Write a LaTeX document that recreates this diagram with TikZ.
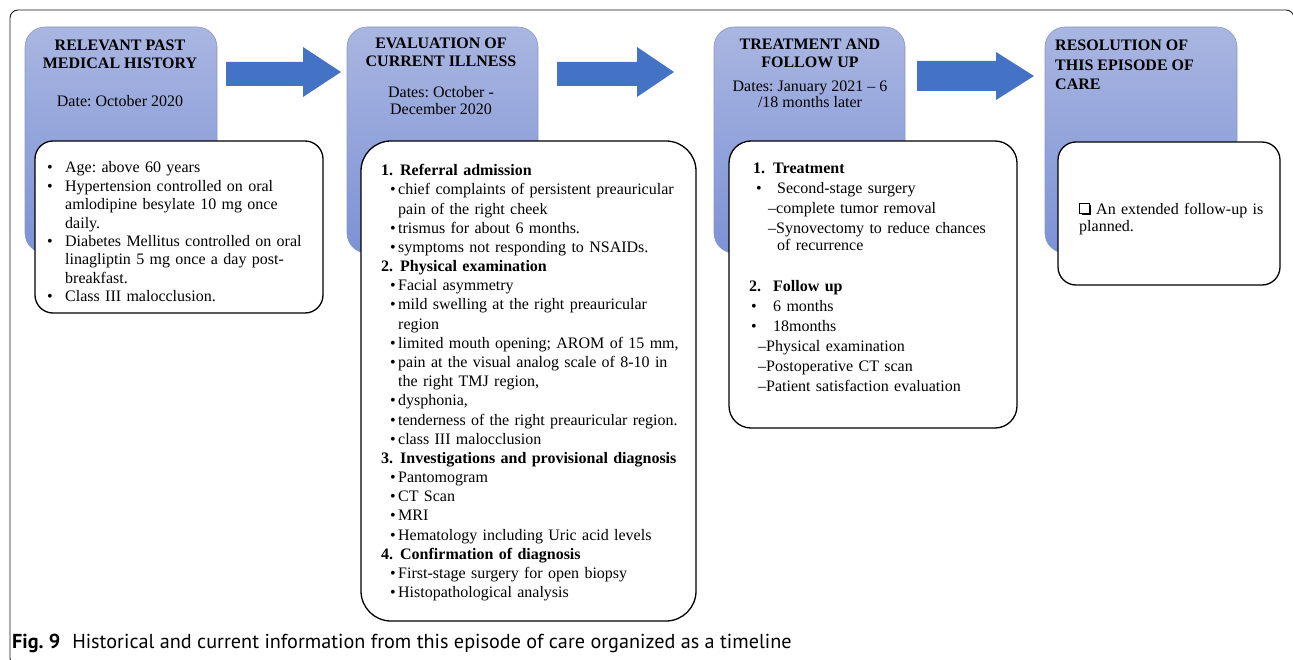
\documentclass[tikz,border=0pt]{standalone}
\usepackage{fontspec}
\setmainfont{Liberation Serif}
\newfontfamily\capfont{PT Sans}
\usetikzlibrary{fit}
\definecolor{hdrtop}{RGB}{170,182,225}
\definecolor{hdrbot}{RGB}{124,146,214}
\definecolor{hdredge}{RGB}{140,152,192}
\definecolor{arrowblue}{RGB}{68,114,196}
\definecolor{framegray}{RGB}{25,25,25}
\frenchspacing
\newcommand\bitemx[3]{\hangindent=#2\hangafter=1\makebox[#2][l]{\hspace*{#1}\textbullet}#3}
\newcommand\bitem[3]{\par\noindent\bitemx{#1}{#2}{#3}}
\newcommand\numheadx[4]{\makebox[#2][l]{\hspace*{#1}\textbf{#3}}\textbf{#4}}
\newcommand\numhead[4]{\par\noindent\numheadx{#1}{#2}{#3}{#4}}
\newcommand\dashline[2]{\par\noindent\hspace*{#1}\textendash#2}
\tikzset{
  hdr/.style={draw=hdredge, line width=0.6pt, rounded corners=20pt, top color=hdrtop, bottom color=hdrbot, inner sep=0pt},
  card/.style={draw=black, line width=1.3pt, fill=white, rounded corners=#1, inner sep=0pt},
  body/.style={anchor=base west, inner sep=0pt, text width=#1, align=left},
  ttl/.style={anchor=base, inner sep=0pt, align=center, font=\bfseries\fontsize{16}{17.5}\selectfont},
  dte/.style={anchor=base, inner sep=0pt, align=center, font=\fontsize{16}{17.3}\selectfont},
  blockarrow/.style={fill=arrowblue},
  frame/.style={draw=framegray, line width=0.9pt, rounded corners=8pt}
}
\begin{document}
\begin{tikzpicture}[x=1pt,y=-1pt]
\useasboundingbox (0,0) rectangle (1293,660);
\begin{scope}
\clip (0,0) rectangle (1293,660);
\draw[frame] (10,10) rectangle (1294,666);
\end{scope}
% header boxes
\node[hdr, fit={(25,27) (217,253)}] (h1) {};
\node[hdr, fit={(347,27) (538,253)}] (h2) {};
\node[hdr, fit={(714,27) (905,253)}] (h3) {};
\node[hdr, fit={(1045,27) (1237,253)}] (h4) {};
% arrows
\fill[blockarrow] (226,62) -- (303,62) -- (303,47) -- (341,72) -- (303,97) -- (303,86) -- (226,86) -- cycle;
\fill[blockarrow] (557,62) -- (637,62) -- (637,47) -- (674,72) -- (637,97) -- (637,86) -- (557,86) -- cycle;
\fill[blockarrow] (917,61) -- (996,61) -- (996,52) -- (1034,76) -- (996,100) -- (996,91) -- (917,91) -- cycle;
% header texts (base anchor = last line)
\node[ttl] (t1) at (120,68.3) {RELEVANT PAST\\MEDICAL HISTORY};
\node[dte] (d1) at (120,107) {Date: October 2020};
\node[ttl, font=\bfseries\fontsize{16}{18.4}\selectfont] (t2) at (441,66.7) {EVALUATION OF\\CURRENT ILLNESS};
\node[dte] (d2) at (441,115) {Dates: October -\\December 2020};
\node[ttl, font=\bfseries\fontsize{16}{17.3}\selectfont] (t3) at (810,67.3) {TREATMENT AND\\FOLLOW UP};
\node[dte, font=\fontsize{16}{16.6}\selectfont] (d3) at (810,108) {Dates: January 2021 \textendash{} 6\\/18 months later};
\node[ttl, anchor=base west, align=left, font=\bfseries\fontsize{16}{19.5}\selectfont] (t4) at (1055,90) {RESOLUTION OF\\THIS EPISODE OF\\CARE};
% content cards
\node[card=18pt, fit={(35,141) (323,313)}] (c1) {};
\node[card=30pt, fit={(361,141) (696,621)}] (c2) {};
\node[card=22pt, fit={(729,141) (1017,428)}] (c3) {};
\node[card=18pt, fit={(1058,142) (1280,285)}] (c4) {};
% card texts
\node[body=280pt, font=\fontsize{16}{18.35}\selectfont] (x1) at (46,173) {%
\bitemx{1pt}{19pt}{Age: above 60 years}
\bitem{1pt}{19pt}{Hypertension controlled on oral\newline amlodipine besylate 10 mg once\newline daily.}
\bitem{1pt}{19pt}{Diabetes Mellitus controlled on oral\newline linagliptin 5 mg once a day post-\newline breakfast.}
\bitem{1pt}{19pt}{Class III malocclusion.}};
\node[body=310pt, font=\fontsize{16}{19.18}\selectfont] (x2) at (381,175.7) {%
\numheadx{0pt}{19pt}{1.}{Referral admission}
\bitem{9pt}{17pt}{chief complaints of persistent preauricular\newline pain of the right cheek}
\bitem{9pt}{17pt}{trismus for about 6 months.}
\bitem{9pt}{17pt}{symptoms not responding to NSAIDs.}
\numhead{0pt}{19pt}{2.}{Physical examination}
\bitem{9pt}{17pt}{Facial asymmetry}
\bitem{9pt}{17pt}{mild swelling at the right preauricular\newline region}
\bitem{9pt}{17pt}{limited mouth opening; AROM of 15 mm,}
\bitem{9pt}{17pt}{pain at the visual analog scale of 8-10 in\newline the right TMJ region,}
\bitem{9pt}{17pt}{dysphonia,}
\bitem{9pt}{17pt}{tenderness of the right preauricular region.}
\bitem{9pt}{17pt}{class III malocclusion}
\numhead{0pt}{19pt}{3.}{Investigations and provisional diagnosis}
\bitem{9pt}{17pt}{Pantomogram}
\bitem{9pt}{17pt}{CT Scan}
\bitem{9pt}{17pt}{MRI}
\bitem{9pt}{17pt}{Hematology including Uric acid levels}
\numhead{0pt}{19pt}{4.}{Confirmation of diagnosis}
\bitem{9pt}{17pt}{First-stage surgery for open biopsy}
\bitem{9pt}{17pt}{Histopathological analysis}};
\node[body=260pt, font=\fontsize{16}{20}\selectfont] (x3) at (749,174) {%
\numheadx{4pt}{24pt}{1.}{Treatment}
\par\noindent\makebox[28pt][l]{\hspace*{7pt}\textbullet}Second-stage surgery
\dashline{19pt}{complete tumor removal}
\dashline{19pt}{Synovectomy to reduce chances}
\par\vspace{-3.3pt}\noindent\hspace*{28pt}of recurrence
\par\vspace{21pt}\noindent\makebox[24pt][l]{\textbf{2.}}\textbf{Follow up}
\par\noindent\makebox[24pt][l]{\hspace*{2pt}\textbullet}6 months
\par\noindent\makebox[24pt][l]{\hspace*{2pt}\textbullet}18months
\dashline{9pt}{Physical examination}
\dashline{9pt}{Postoperative CT scan}
\dashline{9pt}{Patient satisfaction evaluation}};
\node[body=200pt, font=\fontsize{16}{17}\selectfont] (x4) at (1079,215) {%
\hspace*{17pt}An extended follow-up is\newline planned.};
% shadowed check box
\fill[black] (1081.5,205.5) rectangle (1091,215);
\filldraw[fill=white, draw=black, line width=0.8pt] (1079.5,203.5) rectangle (1089,213);
% caption
\node[anchor=base west, inner sep=0pt, font=\capfont\fontsize{20.2}{22}\selectfont] (cap) at (12,648) {\textbf{Fig. 9}\hspace{12pt}Historical and current information from this episode of care organized as a timeline};
\end{tikzpicture}
\end{document}
